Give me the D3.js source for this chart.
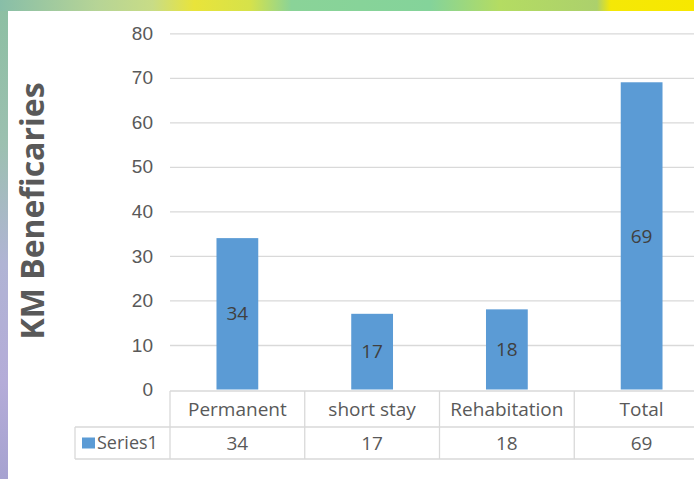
<!DOCTYPE html>
<html>
<head>
<meta charset="utf-8">
<script src="https://cdn.jsdelivr.net/npm/d3@7"></script>
<style>
  html, body { margin: 0; padding: 0; background: #fff; }
  svg { display: block; font-family: "Open Sans", sans-serif; }
</style>
</head>
<body>
<svg id="chart" width="694" height="479"></svg>
<script>
// chart values
const categories = ["Permanent", "short stay", "Rehabitation", "Total"]
const series1 = [34, 17, 18, 69]
const seriesName = "Series1"
const yTicks = [0, 10, 20, 30, 40, 50, 60, 70, 80]
const yTitle = "KM Beneficaries"

const width = 694, height = 479
const plot = {left: 170, right: 709, top: 33.3, bottom: 389.5}
const barColor = "#5b9bd5"
const gridColor = "#d9d9d9"
const textColor = "#595959"
const fontSize = "19px"

const svg = d3.select("#chart")

// slide background peeking around the chart
const defs = svg.append("defs")
const topGrad = defs.append("linearGradient").attr("id", "topGrad")
const topStops = [[0, "#88bea8"], [0.14, "#b6d496"], [0.22, "#c8dc86"], [0.28, "#e9e43a"],
    [0.36, "#d6e24a"], [0.42, "#8ad398"], [0.62, "#84d39a"], [0.72, "#b4dc62"],
    [0.86, "#acd06c"], [0.88, "#f5e806"], [1, "#f7e800"]]
topStops.forEach(([o, c]) => topGrad.append("stop").attr("offset", o).attr("stop-color", c))
const leftGrad = defs.append("linearGradient").attr("id", "leftGrad")
    .attr("x1", 0).attr("y1", 0).attr("x2", 0).attr("y2", 1)
const leftStops = [[0, "#8cbfa2"], [0.3, "#9cc0b0"], [0.55, "#b0b4d4"], [0.8, "#b4acd8"], [1, "#a6a2d0"]]
leftStops.forEach(([o, c]) => leftGrad.append("stop").attr("offset", o).attr("stop-color", c))

svg.append("rect").attr("width", width).attr("height", height).attr("fill", "url(#leftGrad)")
svg.append("rect").attr("width", width).attr("height", 11).attr("fill", "url(#topGrad)")
svg.append("rect").attr("x", 8).attr("y", 11).attr("width", width - 8).attr("height", height - 11)
    .attr("fill", "#fff")

const x = d3.scaleBand(categories, [plot.left, plot.right]).padding(0)
const y = d3.scaleLinear([0, 80], [plot.bottom, plot.top])
const barW = x.bandwidth() * 0.31

// gridlines + y axis labels
const yAxis = d3.axisLeft(y).tickValues(yTicks).tickSize(0).tickPadding(17)
const yAxisGroup = svg.append("g")
    .attr("transform", `translate(${plot.left}, 0)`)
    .call(yAxis)
yAxisGroup.select(".domain").remove()
yAxisGroup.selectAll(".tick text")
    .attr("fill", textColor)
    .style("font-size", fontSize)
yAxisGroup.selectAll(".tick").filter(d => d > 0)
    .append("line")
    .attr("x2", width - plot.left)
    .attr("stroke", gridColor)
    .attr("stroke-width", 1.3)

// bars
svg.append("g")
    .attr("fill", barColor)
    .selectAll("rect")
    .data(series1)
    .join("rect")
    .attr("x", (d, i) => x(categories[i]) + (x.bandwidth() - barW) / 2)
    .attr("y", d => y(d))
    .attr("width", barW)
    .attr("height", d => y(0) - y(d))

// data labels in the middle of each bar
svg.append("g")
    .selectAll("text")
    .data(series1)
    .join("text")
    .attr("x", (d, i) => x(categories[i]) + x.bandwidth() / 2)
    .attr("y", d => (y(d) + y(0)) / 2)
    .attr("dy", "0.35em")
    .attr("text-anchor", "middle")
    .attr("fill", "#404040")
    .style("font-size", fontSize)
    .text(d => d)

// data table below the plot
const rowTop = 391, rowMid = 427, rowBottom = 459, legendLeft = 75
const table = svg.append("g").attr("stroke", gridColor).attr("stroke-width", 1.3).attr("fill", "none")
table.append("line").attr("x1", plot.left).attr("x2", width).attr("y1", rowTop).attr("y2", rowTop)
table.append("line").attr("x1", legendLeft).attr("x2", width).attr("y1", rowMid).attr("y2", rowMid)
table.append("line").attr("x1", legendLeft).attr("x2", width).attr("y1", rowBottom).attr("y2", rowBottom)
table.append("line").attr("x1", legendLeft).attr("x2", legendLeft).attr("y1", rowMid).attr("y2", rowBottom)
table.selectAll("line.col")
    .data(categories)
    .join("line")
    .attr("class", "col")
    .attr("x1", d => x(d)).attr("x2", d => x(d))
    .attr("y1", rowTop).attr("y2", rowBottom)

svg.append("g")
    .selectAll("text")
    .data(categories)
    .join("text")
    .attr("x", d => x(d) + x.bandwidth() / 2)
    .attr("y", (rowTop + rowMid) / 2)
    .attr("dy", "0.35em")
    .attr("text-anchor", "middle")
    .attr("fill", textColor)
    .style("font-size", fontSize)
    .text(d => d)

svg.append("g")
    .selectAll("text")
    .data(series1)
    .join("text")
    .attr("x", (d, i) => x(categories[i]) + x.bandwidth() / 2)
    .attr("y", (rowMid + rowBottom) / 2)
    .attr("dy", "0.35em")
    .attr("text-anchor", "middle")
    .attr("fill", textColor)
    .style("font-size", fontSize)
    .text(d => d)

// legend key in the table
svg.append("rect")
    .attr("x", 82).attr("y", 437.5).attr("width", 13).attr("height", 11)
    .attr("fill", barColor)
svg.append("text")
    .attr("x", 97)
    .attr("y", (rowMid + rowBottom) / 2)
    .attr("dy", "0.35em")
    .attr("fill", textColor)
    .style("font-size", "18px")
    .text(seriesName)

// y axis title
svg.append("text")
    .attr("transform", "translate(33, 211) rotate(-90)")
    .attr("dy", "0.35em")
    .attr("text-anchor", "middle")
    .attr("fill", textColor)
    .style("font-size", "32px")
    .style("font-weight", "bold")
    .text(yTitle)
</script>
</body>
</html>
